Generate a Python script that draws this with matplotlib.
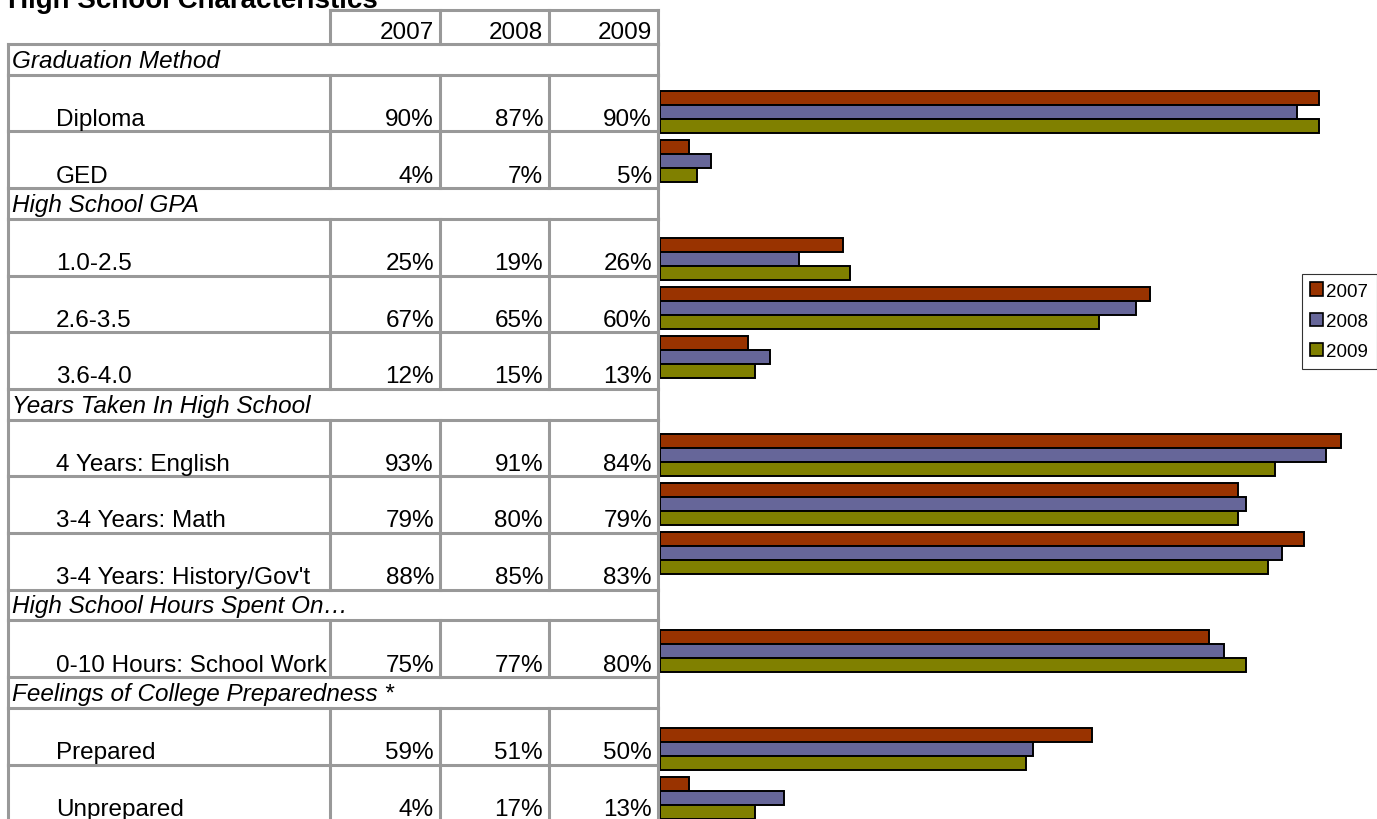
import matplotlib
matplotlib.use("Agg")
import matplotlib.pyplot as plt
from matplotlib.patches import Patch

plt.rcParams['font.family'] = ['Liberation Sans', 'DejaVu Sans']

# ---------------- data ----------------
years = ["2007", "2008", "2009"]
sections = ["Graduation Method", "High School GPA", "Years Taken In High School",
            "High School Hours Spent On\u2026", "Feelings of College Preparedness *"]
section_items = [
    ["Diploma", "GED"],
    ["1.0-2.5", "2.6-3.5", "3.6-4.0"],
    ["4 Years: English", "3-4 Years: Math", "3-4 Years: History/Gov't"],
    ["0-10 Hours: School Work"],
    ["Prepared", "Unprepared"],
]
v2007 = [90, 4, 25, 67, 12, 93, 79, 88, 75, 59, 4]
v2008 = [87, 7, 19, 65, 15, 91, 80, 85, 77, 51, 17]
v2009 = [90, 5, 26, 60, 13, 84, 79, 83, 80, 50, 13]
colors = ["#993300", "#666699", "#808000"]

# ---------------- figure ----------------
W, H = 1377, 820
fig = plt.figure(figsize=(W / 100, H / 100), dpi=100)
tab = fig.add_axes([0, 0, 1, 1])
tab.set_xlim(0, W)
tab.set_ylim(H, 0)
tab.axis('off')

FS = 17.5
grid = '#999999'
lw = 2.2
col_x = [8, 330, 440, 549, 658]

tab.text(8, 8, "High School Characteristics", fontsize=20, fontweight='bold',
         va='baseline', ha='left')

def hline(y, x0, x1):
    tab.plot([x0, x1], [y, y], color=grid, lw=lw, solid_capstyle='projecting')

def vline(x, y0, y1):
    tab.plot([x, x], [y0, y1], color=grid, lw=lw, solid_capstyle='projecting')

# header row
y0, y1 = 11, 45
hline(y0, col_x[1], col_x[4])
hline(y1, col_x[0], col_x[4])
for x in col_x[1:]:
    vline(x, y0, y1)
for j, yr in enumerate(years):
    tab.text(col_x[j + 2] - 6, y1 - 6, yr, fontsize=FS, ha='right', va='baseline')

sec_h, row_h = 30.7, 56.7
y = y1
idx = 0
all_vals = [v2007, v2008, v2009]
for s, items in zip(sections, section_items):
    ytop, ybot = y, y + sec_h
    hline(ybot, col_x[0], col_x[4])
    vline(col_x[0], ytop, ybot)
    vline(col_x[4], ytop, ybot)
    tab.text(col_x[0] + 4, ybot - 8, s, fontsize=FS, style='italic', ha='left', va='baseline')
    y = ybot
    for it in items:
        ytop, ybot = y, y + row_h
        hline(ybot, col_x[0], col_x[4])
        for x in col_x:
            vline(x, ytop, ybot)
        tab.text(56, ybot - 6.5, it, fontsize=FS, ha='left', va='baseline')
        for j in range(3):
            tab.text(col_x[j + 2] - 6, ybot - 6.5, f"{all_vals[j][idx]}%", fontsize=FS,
                     ha='right', va='baseline')
        idx += 1
        y = ybot

# ---------------- bar chart ----------------
ax_left = 660
ax = fig.add_axes([ax_left / W, 0, (W - ax_left) / W, 1])
px_per_pct = 7.32
ax.set_xlim(0, (W - ax_left) / px_per_pct)
first_px, step_px = 113, 49
ax.set_ylim((H - first_px) / step_px, (0 - first_px) / step_px)
ax.axis('off')

positions = []
p = 0
for items in section_items:
    for _ in items:
        positions.append(p)
        p += 1
    p += 1

h = 14 / step_px
for j, (vals, c, yr) in enumerate(zip(all_vals, colors, years)):
    ax.barh([q + (j - 1) * h for q in positions], vals, height=h, color=c,
            edgecolor='black', linewidth=1.4, label=yr)

handles = [Patch(facecolor=c, edgecolor='black', linewidth=1.2, label=yr)
           for c, yr in zip(colors, years)]
leg = fig.legend(handles=handles, loc='upper right',
                 bbox_to_anchor=(1.0 - 0.5 / W, 1 - 275 / H),
                 fontsize=13.5, frameon=True, fancybox=False, shadow=False,
                 handlelength=0.7, handleheight=0.7, handletextpad=0.15,
                 labelspacing=0.7, borderpad=0.45, borderaxespad=0)
leg.get_frame().set_edgecolor('black')
leg.get_frame().set_linewidth(0.8)

fig.savefig("out.png", dpi=100)
